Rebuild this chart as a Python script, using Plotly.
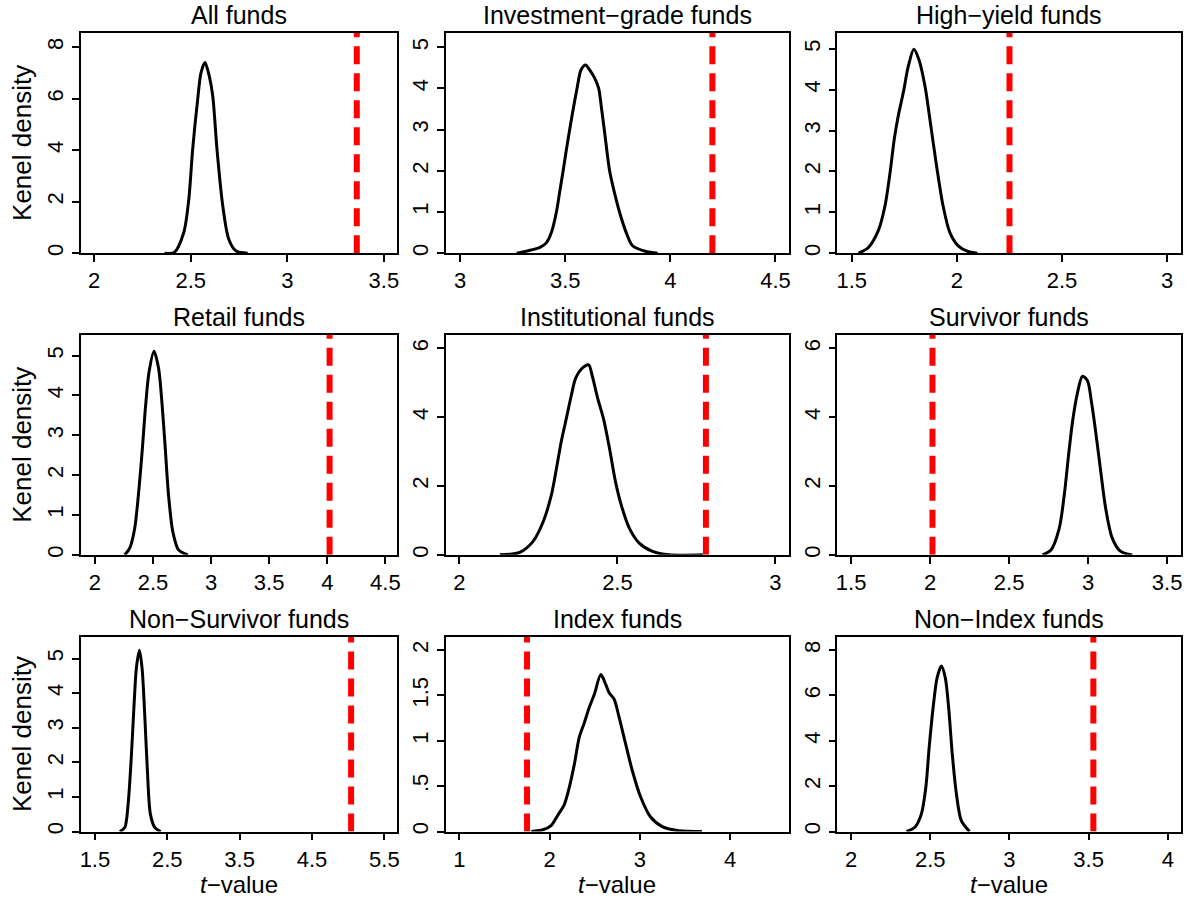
import plotly.graph_objects as go

W, H = 1198, 905
FONT = "Liberation Sans, Arial, Helvetica, sans-serif"

# ---------------- data ----------------
panel_titles = ["All funds", "Investment\u2212grade funds", "High\u2212yield funds",
                "Retail funds", "Institutional funds", "Survivor funds",
                "Non\u2212Survivor funds", "Index funds", "Non\u2212Index funds"]

all_x = [2.364, 2.415, 2.464, 2.49, 2.51, 2.536, 2.553, 2.574, 2.596, 2.614, 2.636, 2.666, 2.697, 2.735, 2.795]
all_y = [0.0, 0.03, 0.8, 2.09, 4.03, 5.97, 7.0, 7.4, 6.87, 6.1, 4.03, 1.83, 0.54, 0.08, 0.0]

ig_x = [3.269, 3.324, 3.38, 3.41, 3.434, 3.458, 3.474, 3.49, 3.505, 3.521, 3.538, 3.556, 3.575, 3.597,
        3.616, 3.64, 3.659, 3.673, 3.687, 3.711, 3.735, 3.758, 3.79, 3.82, 3.885, 3.94]
ig_y = [0.0, 0.06, 0.14, 0.25, 0.5, 1.0, 1.5, 2.0, 2.5, 3.0, 3.5, 4.0, 4.45, 4.57,
        4.45, 4.25, 4.0, 3.5, 2.95, 2.0, 1.45, 1.0, 0.5, 0.18, 0.04, 0.0]

hy_x = [1.532, 1.579, 1.626, 1.658, 1.682, 1.702, 1.721, 1.745, 1.769, 1.795, 1.819, 1.848, 1.876, 1.903, 1.934, 1.966, 2.006, 2.053, 2.097]
hy_y = [0.0, 0.14, 0.55, 1.16, 1.97, 2.79, 3.36, 3.93, 4.58, 4.99, 4.74, 4.09, 3.11, 2.14, 1.16, 0.51, 0.18, 0.04, 0.0]

ret_x = [2.257, 2.3, 2.343, 2.38, 2.409, 2.437, 2.466, 2.509, 2.549, 2.577, 2.606, 2.634, 2.671, 2.72, 2.8]
ret_y = [0.0, 0.17, 0.67, 1.67, 2.67, 3.75, 4.58, 5.11, 4.67, 3.83, 2.67, 1.5, 0.58, 0.125, 0.0]

ins_x = [2.128, 2.191, 2.233, 2.265, 2.291, 2.307, 2.322, 2.338, 2.354, 2.367, 2.386, 2.409, 2.42, 2.438, 2.456, 2.475, 2.494, 2.512, 2.538, 2.569, 2.611, 2.664, 2.77]
ins_y = [0.0, 0.07, 0.39, 0.96, 1.74, 2.51, 3.28, 3.95, 4.63, 5.11, 5.4, 5.52, 5.21, 4.53, 3.95, 3.09, 2.12, 1.45, 0.77, 0.34, 0.1, 0.0, 0.0]

sur_x = [2.712, 2.765, 2.817, 2.849, 2.876, 2.901, 2.929, 2.964, 2.996, 3.021, 3.048, 3.08, 3.111, 3.153, 3.206, 3.279]
sur_y = [0.0, 0.14, 0.77, 1.74, 2.89, 3.86, 4.63, 5.19, 5.06, 4.44, 3.57, 2.41, 1.35, 0.48, 0.1, 0.0]

nsur_x = [1.844, 1.913, 1.959, 2.005, 2.041, 2.073, 2.115, 2.151, 2.188, 2.225, 2.266, 2.326, 2.408]
nsur_y = [0.0, 0.12, 0.8, 2.24, 3.68, 4.73, 5.24, 4.73, 3.39, 1.76, 0.51, 0.12, 0.0]

idx_x = [1.797, 1.925, 2.017, 2.091, 2.164, 2.219, 2.274, 2.329, 2.385, 2.44, 2.495, 2.568, 2.623, 2.66, 2.715, 2.77, 2.844, 2.917, 3.009, 3.119, 3.248, 3.431, 3.688]
idx_y = [0.0, 0.02, 0.066, 0.18, 0.30, 0.49, 0.74, 1.04, 1.2, 1.37, 1.51, 1.73, 1.62, 1.53, 1.46, 1.26, 0.96, 0.67, 0.38, 0.16, 0.055, 0.01, 0.0]

nidx_x = [2.35, 2.403, 2.444, 2.472, 2.493, 2.518, 2.543, 2.57, 2.595, 2.616, 2.639, 2.665, 2.696, 2.748]
nidx_y = [0.0, 0.19, 0.78, 1.95, 3.71, 5.47, 6.78, 7.3, 6.78, 5.47, 3.41, 1.66, 0.48, 0.0]

curves_x = [all_x, ig_x, hy_x, ret_x, ins_x, sur_x, nsur_x, idx_x, nidx_x]
curves_y = [all_y, ig_y, hy_y, ret_y, ins_y, sur_y, nsur_y, idx_y, nidx_y]

# actual t-values (red dashed lines)
actual_t = [3.36, 4.20, 2.25, 4.02, 2.78, 2.015, 5.04, 1.75, 3.53]

# tick values / labels
x_tickvals = [[2, 2.5, 3, 3.5], [3, 3.5, 4, 4.5], [1.5, 2, 2.5, 3],
              [2, 2.5, 3, 3.5, 4, 4.5], [2, 2.5, 3], [1.5, 2, 2.5, 3, 3.5],
              [1.5, 2.5, 3.5, 4.5, 5.5], [1, 2, 3, 4], [2, 2.5, 3, 3.5, 4]]
y_tickvals = [[0, 2, 4, 6, 8], [0, 1, 2, 3, 4, 5], [0, 1, 2, 3, 4, 5],
              [0, 1, 2, 3, 4, 5], [0, 2, 4, 6], [0, 2, 4, 6],
              [0, 1, 2, 3, 4, 5], [0, 0.5, 1, 1.5, 2], [0, 2, 4, 6, 8]]
y_ticktext_index = ["0", ".5", "1", "1.5", "2"]

x_ranges = [[1.93, 3.57], [2.932, 4.563], [1.432, 3.066],
            [1.878, 4.603], [1.957, 3.042], [1.414, 3.588],
            [1.303, 5.679], [0.85, 4.65], [1.914, 4.084]]
y_ranges = [[0, 8.55], [0, 5.35], [0, 5.39],
            [0, 5.52], [0, 6.39], [0, 6.39],
            [0, 5.625], [0, 2.146], [0, 8.585]]

y_label = "Kenel density"
x_label = "<i>t</i>\u2212value"

# ---------------- layout (pixel positions of plot boxes) ----------------
col_px = [(79, 397), (445.7, 790), (839, 1184)]
row_px = [(33, 254), (336, 556.7), (639, 834.3)]

def fx(px):
    return px / W

def fy(py):
    return 1 - py / H

fig = go.Figure()
annotations = []

for i in range(9):
    r, c = divmod(i, 3)
    n = i + 1
    xa = "x" if n == 1 else f"x{n}"
    ya = "y" if n == 1 else f"y{n}"
    xkey = "xaxis" if n == 1 else f"xaxis{n}"
    ykey = "yaxis" if n == 1 else f"yaxis{n}"

    fig.add_trace(go.Scatter(x=curves_x[i], y=curves_y[i], mode="lines",
                             line=dict(color="black", width=3, shape="spline", smoothing=0.8),
                             xaxis=xa, yaxis=ya, showlegend=False, hoverinfo="skip"))
    fig.add_trace(go.Scatter(x=[actual_t[i], actual_t[i]], y=y_ranges[i], mode="lines",
                             line=dict(color="#ff0000", width=6, dash="18px,9px"),
                             xaxis=xa, yaxis=ya, showlegend=False, hoverinfo="skip"))

    common = dict(showline=True, mirror=True, linecolor="black", linewidth=1.5,
                  ticks="outside", ticklen=7, tickwidth=1.5, tickcolor="black",
                  showgrid=False, zeroline=False,
                  tickfont=dict(family=FONT, size=22, color="black"))
    x0, x1 = col_px[c]
    y0, y1 = row_px[r]
    fig.layout[xkey] = dict(domain=[fx(x0), fx(x1)], range=x_ranges[i], anchor=ya,
                            tickvals=x_tickvals[i],
                            ticktext=[f"{v:g}" for v in x_tickvals[i]], **common)
    ytext = y_ticktext_index if i == 7 else [f"{v:g}" for v in y_tickvals[i]]
    fig.layout[ykey] = dict(domain=[fy(y1), fy(y0)], range=y_ranges[i], anchor=xa,
                            tickvals=y_tickvals[i], ticktext=ytext, tickangle=-90, **common)

    annotations.append(dict(text=panel_titles[i], x=fx((x0 + x1) / 2), y=fy(y0 - 18),
                            xref="paper", yref="paper", showarrow=False,
                            xanchor="center", yanchor="middle",
                            font=dict(family=FONT, size=25, color="black")))
    if c == 0:
        annotations.append(dict(text=y_label, x=fx(20), y=fy((y0 + y1) / 2),
                                xref="paper", yref="paper", showarrow=False, textangle=-90,
                                xanchor="center", yanchor="middle",
                                font=dict(family=FONT, size=26, color="black")))
    if r == 2:
        annotations.append(dict(text=x_label, x=fx((x0 + x1) / 2), y=fy(887),
                                xref="paper", yref="paper", showarrow=False,
                                xanchor="center", yanchor="middle",
                                font=dict(family=FONT, size=24, color="black")))

fig.update_layout(width=W, height=H, margin=dict(l=0, r=0, t=0, b=0),
                  paper_bgcolor="white", plot_bgcolor="white",
                  annotations=annotations, showlegend=False)

fig.write_html("out.html", config={"displayModeBar": False},
               post_script="document.body.style.margin='0px';document.body.style.overflow='hidden';")
